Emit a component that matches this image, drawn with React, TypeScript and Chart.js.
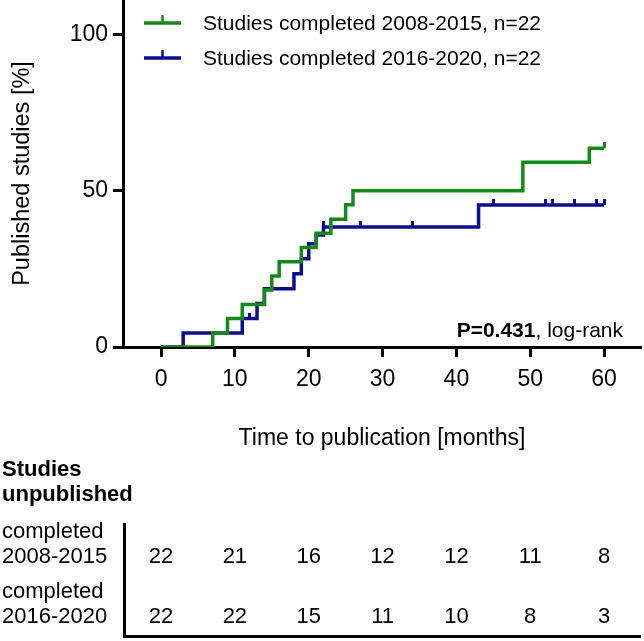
import React, { useEffect, useRef } from 'react';
import { Chart, registerables } from 'chart.js';

Chart.register(...registerables);

// ---- data ----
const GREEN_T = [0, 7, 9, 11, 14, 15, 16, 19, 21, 23, 25, 26, 49, 58, 60];
const GREEN_Y = [0, 4.5, 9.1, 13.6, 18.2, 22.7, 27.3, 31.8, 36.4, 40.9, 45.5, 50.0, 59.1, 63.6, 63.6];
const GREEN_CENSOR_T = [60];
const GREEN_CENSOR_Y = [63.6];

const BLUE_T = [0, 3, 11, 13, 14, 18, 19, 20, 21, 22, 43, 60];
const BLUE_Y = [0, 4.5, 9.1, 13.9, 18.6, 23.4, 28.2, 33.0, 35.8, 38.4, 45.4, 45.4];
const BLUE_CENSOR_T = [12, 22, 27, 34, 45, 52, 53, 56, 59, 60];
const BLUE_CENSOR_Y = [9.1, 38.4, 38.4, 38.4, 45.4, 45.4, 45.4, 45.4, 45.4, 45.4];

const X_TICKS = [0, 10, 20, 30, 40, 50, 60];
const Y_TICKS = [0, 50, 100];

const SERIES_LABELS = ['Studies completed 2008-2015, n=22', 'Studies completed 2016-2020, n=22'];
const TABLE_TITLE = ['Studies', 'unpublished'];
const ROW_LABELS = [
  ['completed', '2008-2015'],
  ['completed', '2016-2020'],
];
const TABLE_TIMES = [0, 10, 20, 30, 40, 50, 60];
const AT_RISK_A = [22, 21, 16, 12, 12, 11, 8];
const AT_RISK_B = [22, 22, 15, 11, 10, 8, 3];

const P_BOLD = 'P=0.431';
const P_REST = ', log-rank';
const X_TITLE = 'Time to publication [months]';
const Y_TITLE = 'Published studies [%]';

// ---- styles ----
const FONT = '"Liberation Sans", Arial, Helvetica, sans-serif';
const GREEN = '#17891a';
const BLUE = '#0c0c8e';
const W = 644;
const H = 641;

function censorMark(color: string): HTMLCanvasElement {
  const c = document.createElement('canvas');
  c.width = 3;
  c.height = 12;
  const g = c.getContext('2d')!;
  g.fillStyle = color;
  g.fillRect(0, 0, 3, 6);
  return c;
}

const overlayPlugin = {
  id: 'kmOverlay',
  afterDraw(chart: any) {
    const { ctx, chartArea, scales } = chart;
    const xs = scales.x;
    ctx.save();

    // legend
    const colors = [GREEN, BLUE];
    SERIES_LABELS.forEach((lab, i) => {
      const y = chartArea.top + 23 + i * 35;
      const x0 = chartArea.left + 21;
      const x1 = chartArea.left + 58;
      const xm = (x0 + x1) / 2;
      ctx.strokeStyle = colors[i];
      ctx.lineCap = 'butt';
      ctx.lineWidth = 3.5;
      ctx.beginPath();
      ctx.moveTo(x0, y);
      ctx.lineTo(x1, y);
      ctx.stroke();
      ctx.lineWidth = 2.5;
      ctx.beginPath();
      ctx.moveTo(xm, y);
      ctx.lineTo(xm, y - 8);
      ctx.stroke();
      ctx.fillStyle = '#000';
      ctx.font = `21px ${FONT}`;
      ctx.textAlign = 'left';
      ctx.textBaseline = 'middle';
      ctx.fillText(lab, chartArea.left + 80, y + 1);
    });

    // p-value
    ctx.textBaseline = 'middle';
    ctx.textAlign = 'right';
    const pRight = chartArea.right - 18;
    const pY = chartArea.bottom - 16;
    ctx.font = `21px ${FONT}`;
    ctx.fillText(P_REST, pRight, pY);
    const restW = ctx.measureText(P_REST).width;
    ctx.font = `bold 21px ${FONT}`;
    ctx.fillText(P_BOLD, pRight - restW, pY);

    // number-at-risk table
    ctx.textAlign = 'left';
    ctx.font = `bold 22px ${FONT}`;
    ctx.fillText(TABLE_TITLE[0], 2, 470);
    ctx.fillText(TABLE_TITLE[1], 2, 495);

    const rowsY = [
      [531.5, 556.5],
      [591.5, 616.5],
    ];
    const rows = [AT_RISK_A, AT_RISK_B];
    ctx.font = `22px ${FONT}`;
    rows.forEach((vals, r) => {
      ctx.textAlign = 'left';
      ctx.fillText(ROW_LABELS[r][0], 2, rowsY[r][0]);
      ctx.fillText(ROW_LABELS[r][1], 2, rowsY[r][1]);
      ctx.textAlign = 'center';
      vals.forEach((v, j) => {
        ctx.fillText(String(v), xs.getPixelForValue(TABLE_TIMES[j]), rowsY[r][1]);
      });
    });

    // table frame
    ctx.strokeStyle = '#000';
    ctx.lineWidth = 3;
    ctx.lineCap = 'butt';
    const lx = chartArea.left + 1.5;
    ctx.beginPath();
    ctx.moveTo(lx, 523);
    ctx.lineTo(lx, 636.5);
    ctx.lineTo(chartArea.right, 636.5);
    ctx.stroke();

    ctx.restore();
  },
};

export default function App() {
  const ref = useRef<HTMLCanvasElement | null>(null);

  useEffect(() => {
    document.body.style.margin = '0';
    const canvas = ref.current;
    if (!canvas) return;

    const green = GREEN_T.map((t, i) => ({ x: t, y: GREEN_Y[i] }));
    const blue = BLUE_T.map((t, i) => ({ x: t, y: BLUE_Y[i] }));
    const greenC = GREEN_CENSOR_T.map((t, i) => ({ x: t, y: GREEN_CENSOR_Y[i] }));
    const blueC = BLUE_CENSOR_T.map((t, i) => ({ x: t, y: BLUE_CENSOR_Y[i] }));

    const chart = new Chart(canvas, {
      type: 'line',
      data: {
        datasets: [
          {
            label: SERIES_LABELS[0],
            data: green,
            borderColor: GREEN,
            borderWidth: 3.5,
            stepped: 'before',
            pointRadius: 0,
            fill: false,
            borderJoinStyle: 'miter',
            borderCapStyle: 'butt',
          },
          {
            label: 'censored A',
            data: greenC,
            showLine: false,
            pointStyle: censorMark(GREEN) as any,
            pointRadius: 6,
            borderColor: GREEN,
            backgroundColor: GREEN,
          },
          {
            label: SERIES_LABELS[1],
            data: blue,
            borderColor: BLUE,
            borderWidth: 3.5,
            stepped: 'before',
            pointRadius: 0,
            fill: false,
            borderJoinStyle: 'miter',
            borderCapStyle: 'butt',
          },
          {
            label: 'censored B',
            data: blueC,
            showLine: false,
            pointStyle: censorMark(BLUE) as any,
            pointRadius: 6,
            borderColor: BLUE,
            backgroundColor: BLUE,
          },
        ],
      },
      options: {
        responsive: false,
        animation: false,
        events: [],
        layout: { autoPadding: false, padding: { left: 0, right: 3, top: 0, bottom: 0 } },
        plugins: {
          legend: { display: false },
          tooltip: { enabled: false },
        },
        scales: {
          x: {
            type: 'linear',
            min: -5.15,
            max: 65,
            afterBuildTicks: (s: any) => {
              s.ticks = X_TICKS.map((v) => ({ value: v }));
            },
            afterFit: (s: any) => {
              s.height = 294;
              s.paddingLeft = 0;
              s.paddingRight = 0;
            },
            grid: {
              display: true,
              drawOnChartArea: false,
              drawTicks: true,
              tickLength: 10,
              tickWidth: 3,
              tickColor: '#000',
            },
            border: { display: true, width: 3, color: '#000' },
            ticks: {
              color: '#000',
              font: { family: FONT, size: 23 },
              padding: 9,
              maxRotation: 0,
              autoSkip: false,
            },
            title: {
              display: true,
              text: X_TITLE,
              color: '#000',
              font: { family: FONT, size: 23 },
              padding: { top: 0, bottom: 189 },
            },
          },
          y: {
            type: 'linear',
            min: 0,
            max: 111,
            afterBuildTicks: (s: any) => {
              s.ticks = Y_TICKS.map((v) => ({ value: v }));
            },
            afterFit: (s: any) => {
              s.width = 123;
              s.paddingTop = 0;
              s.paddingBottom = 0;
            },
            grid: {
              display: true,
              drawOnChartArea: false,
              drawTicks: true,
              tickLength: 10,
              tickWidth: 3,
              tickColor: '#000',
            },
            border: { display: true, width: 3, color: '#000' },
            ticks: {
              color: '#000',
              font: { family: FONT, size: 23 },
              padding: 5,
            },
            title: {
              display: true,
              text: Y_TITLE,
              color: '#000',
              font: { family: FONT, size: 23.5 },
              padding: { top: 8, bottom: 0 },
            },
          },
        },
      } as any,
      plugins: [overlayPlugin],
    });

    return () => chart.destroy();
  }, []);

  return (
    <div style={{ position: 'absolute', left: 0, top: 0, width: W, height: H }}>
      <canvas ref={ref} width={W} height={H} style={{ display: 'block', width: W, height: H }} />
    </div>
  );
}
